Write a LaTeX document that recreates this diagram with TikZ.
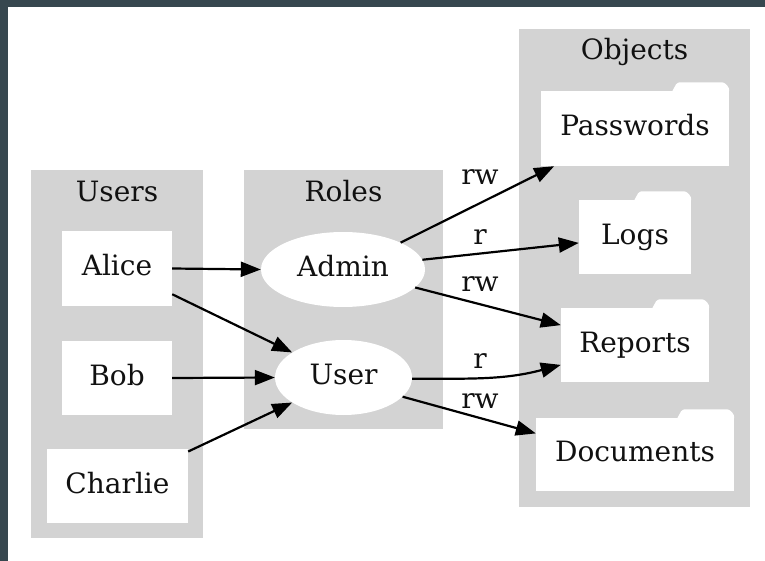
\documentclass[tikz,border=0pt]{standalone}
\usepackage{fontspec}
\setmainfont{DejaVu Serif}
\usetikzlibrary{arrows.meta,shapes.geometric,calc}
\definecolor{framecol}{HTML}{37474F}
\definecolor{clustercol}{HTML}{D3D3D3}
\definecolor{ink}{HTML}{111111}

% white tab on top of a folder-shaped node
\newcommand\foldertab[1]{%
  \fill[white, rounded corners=2.5pt]
    ($(#1.north east)+(-57pt,-0.5pt)$) -- ($(#1.north east)+(-52pt,8.5pt)$)
    -- ($(#1.north east)+(-5pt,8.5pt)$) -- ($(#1.north east)+(0pt,3pt)$)
    [sharp corners] -- ($(#1.north east)+(0pt,-0.5pt)$) -- cycle;}

\begin{document}
\begin{tikzpicture}[x=1pt,y=-1pt,
  txt/.style={font=\fontsize{28}{32}\selectfont, text=ink},
  clusterbox/.style={fill=clustercol, inner sep=0pt},
  title/.style={txt, anchor=base, inner sep=0pt},
  item/.style={txt, fill=white, inner sep=0pt, text height=21pt, text depth=6.5pt},
  rolenode/.style={item, ellipse},
  folder/.style={item},
  edgelabel/.style={txt, anchor=base, inner sep=0pt},
  link/.style={line width=2.2pt, black, -{Triangle[length=20pt,width=15pt]}},
]
\useasboundingbox (0,0) rectangle (765,561);
\fill[framecol] (0,0) rectangle (765,561);
\fill[white] (8,7) rectangle (765,561);

% clusters
\node[clusterbox, minimum width=172pt, minimum height=368pt] (users) at (117,354) {};
\node[clusterbox, minimum width=199pt, minimum height=259pt] (roles) at (343.5,299.5) {};
\node[clusterbox, minimum width=231pt, minimum height=478pt] (objects) at (634.5,268) {};
\node[title] (usersT) at (117,202) {Users};
\node[title] (rolesT) at (343.5,202) {Roles};
\node[title] (objectsT) at (634.5,60) {Objects};

% users
\node[item, minimum width=110pt, minimum height=75pt] (alice) at (117,268.5) {Alice};
\node[item, minimum width=110pt, minimum height=74pt] (bob) at (117,378) {Bob};
\node[item, minimum width=141pt, minimum height=74pt] (charlie) at (117.5,486) {Charlie};

% roles
\node[rolenode, minimum width=164pt, minimum height=75pt] (admin) at (343,269.5) {Admin};
\node[rolenode, minimum width=137pt, minimum height=75pt] (user) at (343.5,377.5) {User};

% objects
\node[folder, minimum width=188pt, minimum height=75pt] (passwords) at (635,128.5) {Passwords};
\node[folder, minimum width=112pt, minimum height=74pt] (logs) at (635,237) {Logs};
\node[folder, minimum width=148pt, minimum height=74pt] (reports) at (635,345) {Reports};
\node[folder, minimum width=198pt, minimum height=73pt] (documents) at (635,454.5) {Documents};
\foldertab{passwords}
\foldertab{logs}
\foldertab{reports}
\foldertab{documents}

% user -> role assignments
\draw[link] (alice.east) -- (admin.west);
\draw[link] (alice.-25) -- (user.154);
\draw[link] (bob.east) -- (user.west);
\draw[link] (charlie.26) -- (user.206);

% role -> object permissions
\draw[link] (admin.25) -- (passwords.205);
\draw[link] (admin.7) -- (logs.186);
\draw[link] (admin.-14) -- (reports.165);
\draw[link] (user.-1) to[out=0, in=195] (reports.195);
\draw[link] (user.-18) -- (documents.168);

\node[edgelabel] (l1) at (480,185) {rw};
\node[edgelabel] (l2) at (480,244) {r};
\node[edgelabel] (l3) at (480,291) {rw};
\node[edgelabel] (l4) at (480,368) {r};
\node[edgelabel] (l5) at (480,408) {rw};
\end{tikzpicture}
\end{document}
